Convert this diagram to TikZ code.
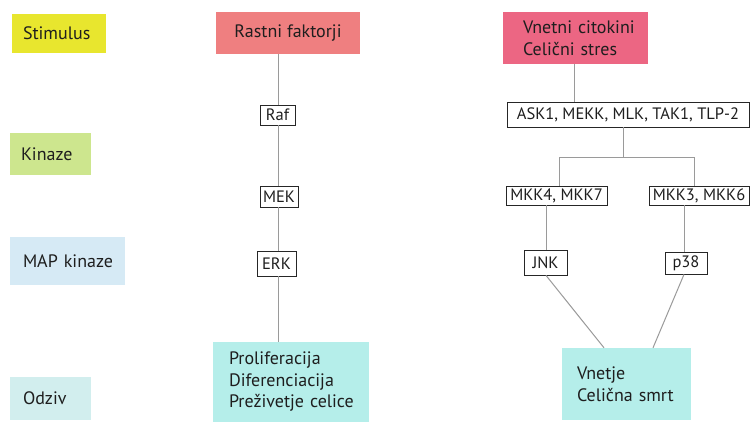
\documentclass[tikz,border=0pt]{standalone}
\usepackage{fontspec}
\setmainfont{PT Sans}
\definecolor{cyel}{HTML}{E8E62E}
\definecolor{cgrn}{HTML}{CDE68E}
\definecolor{cmap}{HTML}{D6EAF5}
\definecolor{codz}{HTML}{D2EEEE}
\definecolor{cras}{HTML}{EF7F80}
\definecolor{cvne}{HTML}{EC6683}
\definecolor{ccya}{HTML}{B5EEEA}
\definecolor{ctxt}{HTML}{1E1E1E}
\definecolor{cline}{HTML}{9A9A9A}
\hbadness=10000 \hfuzz=200pt
\begin{document}
\begin{tikzpicture}[x=1pt,y=-1pt,
  every node/.style={text=ctxt, font=\fontsize{18}{21.5}\selectfont},
  cbox/.style args={#1/#2/#3/#4}{fill=#1, minimum width=#2pt, minimum height=#3pt,
     text width=#2pt-2*#4pt, align=left, inner xsep=#4pt, inner ysep=0pt},
  kbox/.style={draw=black!85, line width=0.8pt, fill=white, inner xsep=1pt, inner ysep=0pt,
     font=\fontsize{16.5}{19}\selectfont},
  conn/.style={draw=cline, line width=1pt}]
\useasboundingbox[fill=white] (0,0) rectangle (751,423);
% left legend
\node[cbox=cyel/94/39/11] (stim) at (59,33.5) {\mbox{Stimulus}};
\node[cbox=cgrn/81/42/11] (kin) at (50.5,154) {\mbox{Kinaze}};
\node[cbox=cmap/115/48/13] (mapk) at (67.5,261) {\mbox{MAP kinaze}};
\node[cbox=codz/81/43/13] (odz) at (50.5,398.5) {\mbox{Odziv}};
% left pathway
\node[fill=cras, minimum width=144pt, minimum height=42pt, inner sep=0pt] (ras) at (288,33) {Rastni faktorji};
\node[kbox, minimum width=35pt, minimum height=20pt] (raf) at (277.5,115) {Raf};
\node[kbox, minimum width=38pt, minimum height=21pt] (mek) at (279,196.5) {MEK};
\node[kbox, minimum width=39pt, minimum height=25pt] (erk) at (276.5,263.5) {ERK};
\node[cbox=ccya/156/80/16] (prol) at (291,382) {\mbox{Proliferacija}\\\mbox{Diferenciacija}\\\mbox{Preživetje celice}};
\coordinate (lx) at (278,0);
\draw[conn] (ras.south -| lx) -- (raf.north -| lx);
\draw[conn] (raf.south -| lx) -- (mek.north -| lx);
\draw[conn] (mek.south -| lx) -- (erk.north -| lx);
\draw[conn] (erk.south -| lx) -- (prol.north -| lx);
% right pathway
\node[cbox=cvne/145/52/20] (vne) at (575.5,38) {\mbox{Vnetni citokini}\\\mbox{Celični stres}};
\node[kbox, minimum width=242pt, minimum height=25pt] (ask) at (628,114.5) {ASK1, MEKK, MLK, TAK1, TLP-2};
\node[kbox, minimum width=101pt, minimum height=19pt] (m47) at (556.5,195.5) {MKK4, MKK7};
\node[kbox, minimum width=100pt, minimum height=19pt] (m36) at (699,195.5) {MKK3, MKK6};
\node[kbox, minimum width=43pt, minimum height=25pt] (jnk) at (545.5,262.5) {JNK};
\node[kbox, minimum width=42pt, minimum height=22pt] (p38) at (686,263) {p38};
\node[cbox=ccya/129/72/15] (vnj) at (626.5,384) {\mbox{Vnetje}\\\mbox{Celična smrt}};
\coordinate (rx) at (574,0);
\coordinate (j) at (623,157);
\coordinate (jl) at (559,157);
\coordinate (jr) at (694,157);
\coordinate (jx) at (546,0);
\coordinate (px) at (684,0);
\draw[conn] (vne.south -| rx) -- (ask.north -| rx);
\draw[conn] (ask.south -| j) -- (j);
\draw[conn] (jl) -- (jr);
\draw[conn] (jl) -- (m47.north -| jl);
\draw[conn] (jr) -- (m36.north -| jr);
\draw[conn] (m47.south -| jx) -- (jnk.north -| jx);
\draw[conn] (m36.south -| px) -- (p38.north -| px);
\draw[conn] (jnk.south -| jx) -- (vnj.north -| 604,0);
\draw[conn] (p38.south -| px) -- (vnj.north -| 653,0);
\end{tikzpicture}
\end{document}
